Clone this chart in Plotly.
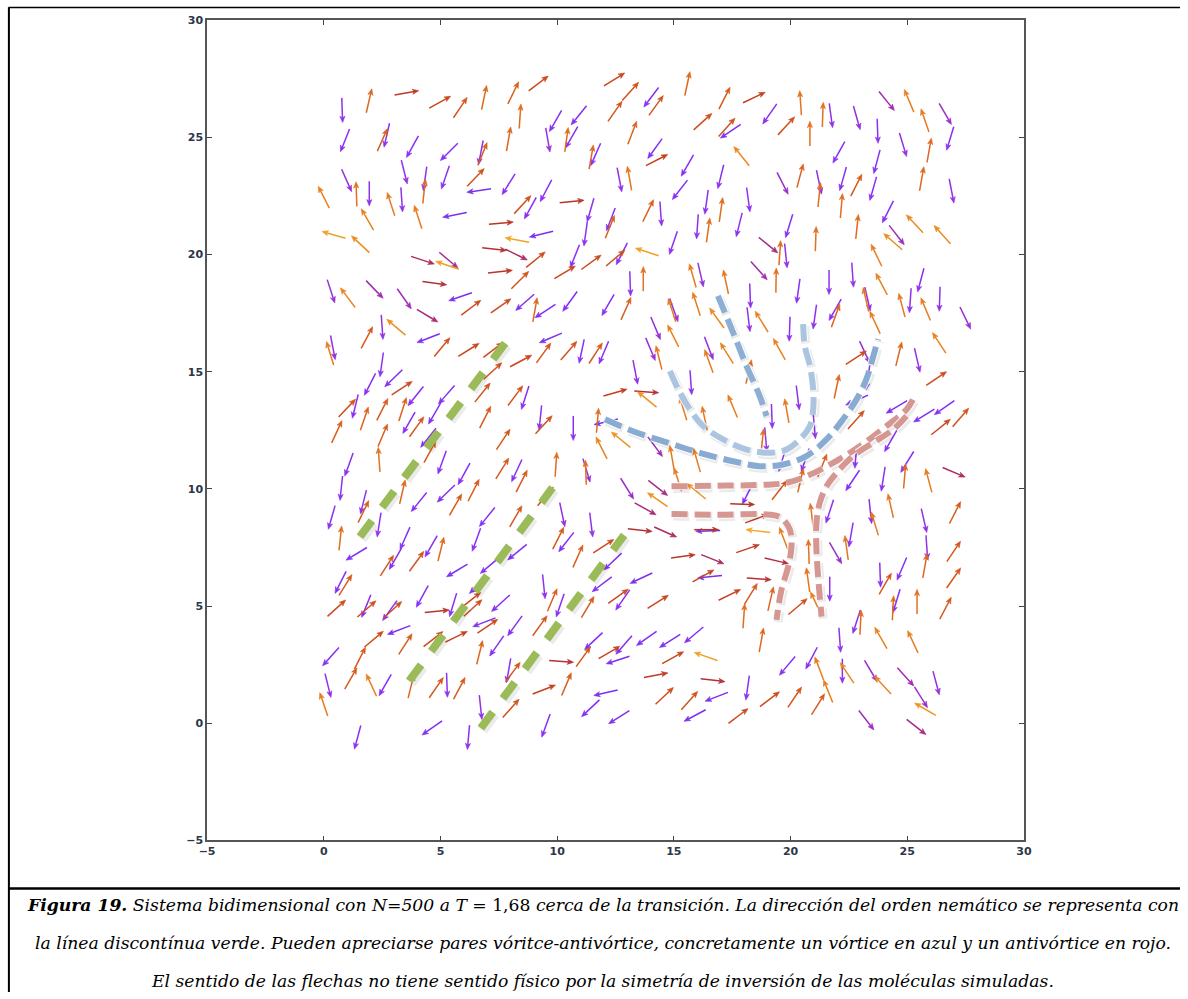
import math
import plotly.graph_objects as go

# The page is photographed with the html body margin (8px) included and fitted to 1188x999,
# so target pixel positions are converted through that mapping.
W, H = 1188, 999
MARGIN = 8
SX = (W + 2 * MARGIN) / W
SY = (H + 2 * MARGIN) / H

X_RANGE = [-5, 30]
Y_RANGE = [-5, 30]
TICK_VALS = [-5, 0, 5, 10, 15, 20, 25, 30]

ARROW_LEN = 1.05
HEAD_LEN = 0.27
HEAD_HALF = 0.11

# ---------------- arrow field: centre x, centre y, direction (deg) ----------------
# upper-left block
A_x = [0.79,1.94,3.55,4.98,5.85,6.87,8.12,9.2,8.41,9.93,
       10.93,0.91,2.51,2.7,3.8,5.37,6.73,6.8,7.92,9.6,
       10.4,10.62,11.46,11.65,0.98,1.4,1.95,2.88,3.45,3.34,
       4.3,4.34,4.04,5.21,6.51,6.65,7.92,9.52,8.52,8.85,
       10.63,11.43,11.22,0.0,1.87,5.61,7.6,0.43,1.57,8.28,
       9.32,7.31,8.25,9.08,10.76,11.46,10.33,4.24,5.29,5.35,
       7.56,8.41,4.75,0.31,1.03,2.18,3.45,5.85,6.31,7.59,
       8.62,9.05,9.49,10.55,4.44,2.5,3.1]
A_y = [26.16,26.56,26.9,26.5,26.27,26.7,26.9,27.3,25.9,25.7,
       25.94,24.87,24.89,25.09,24.6,24.38,24.35,24.29,24.93,24.89,
       24.9,25.0,24.16,24.27,23.16,22.58,22.6,22.15,23.52,22.34,
       22.7,23.23,21.6,23.29,23.29,22.73,23.0,22.72,22.13,21.98,
       22.26,21.9,20.88,22.45,21.5,21.69,21.34,20.84,20.44,20.62,
       20.87,20.23,20.0,19.78,19.93,19.67,19.24,19.76,19.54,19.76,
       19.27,18.91,18.78,18.43,18.16,18.51,18.11,18.2,17.73,17.81,
       17.96,17.64,17.59,18.0,17.39,16.9,16.9]
A_a = [-88,77,10,29,56,78,64,37,86,-120,
       -129,-112,66,-103,-119,-135,-101,68,80,-80,
       82,-120,80,-114,-66,92,-90,108,-76,-86,
       84,-98,108,-109,46,-172,-122,-118,47,-119,
       6,-106,-98,117,120,-169,5,164,137,169,
       -166,-6,-26,39,-112,36,31,-18,161,-40,
       6,45,-8,-72,127,-46,-55,-161,37,35,
       -139,80,-147,-126,-31,-86,140]

# lower-left block
B_x = [0.27,0.39,1.85,4.48,5.07,6.21,7.26,9.72,8.45,9.42,
       10.5,11.05,11.65,12.0,2.48,2.99,3.35,1.98,1.0,1.35,
       1.74,0.56,2.51,3.94,3.38,3.65,3.98,5.26,4.75,4.48,
       4.55,2.37,2.53,1.08,0.75,0.34,0.71,1.7,1.7,2.37,
       3.37,4.08,5.24,5.65,6.42,6.01,7.65,8.27,8.48,5.07,
       7.69,6.92,8.21,8.63,6.8,7.24,9.28,9.43,10.69,12.49,
       12.09,11.73,11.9,12.73,9.95,11.26,11.23,9.5,10.22,11.46,
       10.05,10.39,10.89,11.99,12.38,9.43,9.79,10.13,11.92,12.62,
       12.81,11.31,6.54,7.0,8.23,8.29,7.11,5.71,6.62,6.31,
       7.58,6.87,7.02,8.19,7.41,9.26,10.18,11.12,11.56,12.23,
       12.86,12.6,9.44,10.4,12.08,11.43,12.65,9.52,7.92,8.1,
       6.72,8.02,4.64,4.82,5.28,5.81,3.74,2.04,2.63,1.16,
       0.18,0.0,0.3,1.55,2.15,3.22,3.5,4.69,5.68,6.68,
       0.55,1.82,1.84,2.83,2.95,4.22,4.85,5.54,6.39,0.72,
       0.93,1.4,2.71,3.48,3.07,3.98,4.6,5.02,1.45,6.2]
B_y = [15.79,16.03,16.46,16.43,16.05,15.93,15.93,16.44,15.46,15.8,
       15.9,15.87,15.79,15.82,15.3,14.72,14.3,14.46,13.45,13.52,
       13.0,12.44,13.39,13.96,13.4,12.82,12.65,14.02,13.22,12.18,
       11.58,11.25,12.29,11.04,10.03,8.78,7.9,9.44,9.03,8.47,
       9.87,9.44,9.8,9.33,9.94,10.64,10.87,10.78,10.33,11.13,
       12.11,13.06,13.98,13.89,14.11,15.03,13.04,12.74,12.59,14.11,
       12.86,12.92,11.75,12.1,11.04,10.79,10.7,9.68,8.9,8.47,
       7.9,7.73,7.13,7.56,6.9,5.83,5.26,5.03,5.93,5.42,
       5.26,4.96,7.83,8.8,8.83,7.3,6.73,6.52,5.9,5.26,
       5.12,4.31,4.14,4.16,3.3,4.16,2.64,2.84,3.51,3.02,
       3.34,2.7,1.44,1.67,1.3,0.64,0.26,-0.1,2.25,2.18,
       0.68,0.64,-0.2,1.52,1.63,1.49,1.58,1.63,1.63,1.91,
       1.61,0.81,2.84,2.78,3.59,3.98,3.38,3.59,3.69,3.02,
       4.91,5.0,4.88,4.81,4.84,5.41,4.78,5.05,4.92,6.01,
       5.9,7.23,6.73,7.89,7.02,6.91,7.55,7.43,-0.6,-0.6]
B_a = [107,-79,62,-159,50,32,37,-157,28,54,
       49,-102,57,-113,-98,-136,33,-117,46,-104,
       71,65,63,-129,72,-120,54,-131,-120,-129,
       61,94,67,-110,-96,-106,84,-104,64,-99,
       77,-129,-136,60,63,-119,58,-115,63,-110,
       56,63,53,-108,51,42,-96,47,-90,16,
       -167,85,117,141,86,-73,92,50,-78,-83,
       63,-128,66,33,-137,-84,67,-109,-143,35,
       -125,59,-110,-129,60,-141,-140,-149,-136,38,
       -138,-159,34,-126,-125,54,-4,54,-137,30,
       -131,-162,21,67,-167,-137,-148,-110,-100,53,
       -84,48,-145,55,-88,62,76,115,-120,60,
       -76,109,-132,63,40,-159,57,38,26,76,
       42,-112,41,-126,42,-119,6,-107,42,-117,
       58,-149,57,-114,-120,54,-120,76,-105,-95]

# central / right block
C_x = [13.13,13.69,15.81,16.15,17.23,18.65,19.38,19.8,21.65,22.66,
       23.68,23.9,25.58,26.39,12.18,12.95,14.92,15.0,15.97,18.27,
       20.33,21.91,21.93,21.04,23.23,23.3,25.13,24.77,25.79,27.49,
       23.62,16.84,18.2,18.76,19.96,19.52,26.37,24.64,25.43,22.81,
       23.18,23.32,21.98,26.25,14.0,14.22,14.97,14.36,16.5,16.5,
       17.27,13.35,13.83,13.85,15.73,15.4,16.32,17.52,18.21,19.2,
       19.84,20.31,22.84,22.81,24.55,25.72,26.59,26.44,27.29,24.29,
       21.36,19.53,20.63,19.65,20.43,18.79,15.99,14.92,14.2,15.17,
       15.96,13.0,14.32,14.3,13.78,18.17,17.94,22.66,23.97,25.0,
       24.89,25.92,27.0,21.68,22.59,22.4,23.42,23.61,24.29,25.72,
       25.84,27.05,26.99,26.64,25.76,26.99,21.93,23.84,24.77,24.06,
       25.42,24.54,24.39,23.0,22.83,21.68,21.08,20.91,20.78,20.75,
       20.31,18.0,18.3,19.15,18.75,18.65,19.4,18.17,18.55,18.61,
       19.71,15.4,16.66,16.54,16.26,17.39,14.32,13.6,14.64,13.55,
       16.4,16.46,22.8,21.02,18.94]
C_y = [18.76,18.96,19.1,19.13,18.83,19.31,18.9,19.95,18.82,19.13,
       19.97,18.74,18.91,18.1,17.85,17.69,17.63,17.63,17.89,18.24,
       18.44,17.64,17.39,17.34,18.08,18.1,18.04,17.84,17.67,17.29,
       17.1,17.29,17.23,17.14,16.82,15.96,16.23,15.76,15.49,15.6,
       15.83,14.75,14.37,14.71,15.96,16.85,16.53,15.6,16.0,15.45,
       15.79,14.98,14.14,13.82,14.54,13.43,13.01,13.53,15.0,13.1,
       13.33,13.89,13.79,12.95,13.5,13.13,13.47,12.64,13.05,12.04,
       11.0,9.95,11.23,11.25,10.36,12.04,11.22,11.34,11.8,10.4,
       9.9,10.01,10.04,9.54,9.15,9.81,9.35,10.36,10.42,11.15,
       10.54,10.36,10.71,9.04,8.04,7.49,9.04,8.52,9.28,8.65,
       7.5,8.99,7.33,4.91,6.72,6.2,7.26,6.33,6.59,5.95,
       5.19,5.22,4.92,4.3,4.33,5.73,5.13,8.87,7.32,6.12,
       4.98,4.58,5.52,5.31,3.55,6.16,6.93,7.45,8.73,8.2,
       7.87,7.12,7.0,6.25,6.29,5.48,5.18,6.19,8.16,8.24,
       8.26,8.21,11.4,12.66,12.1]
C_a = [-88,90,106,-77,102,-48,89,-84,-90,-86,
       116,118,-105,-92,-120,66,108,-70,108,-88,
       -98,-120,70,-98,103,-77,-94,105,113,-64,
       115,126,-83,122,-92,119,123,76,-77,33,
       -65,-98,78,34,-67,-67,117,104,-69,110,
       122,-79,-4,141,-86,107,102,113,77,-88,
       100,-83,-156,48,-149,-148,-145,39,49,-120,
       68,52,-109,-107,77,84,106,100,-53,108,
       141,-58,-38,145,-29,-117,-2,-124,-99,-122,
       85,105,-23,-108,-100,98,-84,107,103,-77,
       -86,63,56,62,80,55,-60,-88,-113,60,
       90,-107,87,87,-108,-90,115,97,92,98,
       40,86,58,77,80,-4,-13,19,20,173,
       111,8,-22,-174,29,26,32,-155,-24,-6,
       0,-178,-95,-85,-85]

# upper-right block
D_x = [12.45,12.48,13.14,14.03,14.24,15.58,17.17,18.44,19.11,20.43,
       21.38,21.73,22.84,24.12,25.08,26.63,16.24,17.27,17.43,19.82,
       20.83,23.73,25.76,26.84,24.82,25.94,13.22,14.19,14.27,15.58,
       17.9,22.07,23.7,25.62,26.9,12.67,13.1,15.26,17.01,19.66,
       20.41,21.22,21.23,22.25,22.82,23.54,22.18,24.17,25.32,26.5,
       24.55,24.39,22.85,21.08,19.94,19.54,19.05,18.19,17.8,17.02,
       16.4,16.01,16.47,14.98,13.85,13.9,14.44,12.3,12.26,12.77,
       12.5]
D_y = [27.47,26.11,26.96,26.71,26.36,27.29,26.67,26.7,26.0,26.47,
       25.97,25.93,25.83,26.55,26.56,26.0,25.67,25.43,25.26,25.49,
       25.16,25.27,25.72,24.95,24.68,24.45,25.2,24.52,24.03,23.8,
       24.2,24.36,23.96,23.23,22.71,23.19,23.25,22.76,23.32,23.04,
       23.36,23.09,22.55,23.23,22.96,22.81,22.08,21.82,21.31,20.85,
       20.83,20.55,21.19,20.67,21.22,20.07,20.4,22.34,21.27,21.91,
       22.24,21.19,21.04,20.5,20.11,21.87,21.74,21.5,21.18,20.03,
       19.85]
D_a = [32,55,48,-127,54,78,63,25,-125,94,
       88,-82,-74,-51,113,-60,42,48,-146,47,
       90,-88,109,-107,-73,80,69,-126,27,-120,
       129,-119,-105,80,-79,-79,100,-128,-104,-63,
       75,-78,84,-106,63,-106,85,-117,133,132,
       -52,139,84,88,-107,86,-39,-82,-104,82,
       -98,-94,82,-109,162,64,-86,-111,68,-117,
       40]

# lower-right block
E_x = [13.83,14.83,15.86,14.96,16.37,14.23,16.67,14.6,15.67,16.83,
       15.9,18.16,17.76,19.11,20.18,21.18,21.61,21.23,19.86,20.9,
       22.11,22.22,22.42,23.87,25.24,23.44,23.95,24.93,25.59,26.24,
       25.77,23.25,25.39]
E_y = [3.62,3.51,3.77,2.8,2.85,2.05,1.84,1.17,0.97,1.13,
       0.33,1.51,0.31,1.03,1.11,0.81,1.37,2.34,2.45,2.78,
       3.55,2.23,2.15,3.64,3.48,2.23,1.63,1.98,1.11,1.72,
       0.6,0.13,-0.16]
E_a = [-145,-148,-140,29,161,11,-7,43,48,-159,
       -152,-98,37,37,56,58,112,111,-130,-118,
       -86,-90,124,120,115,-59,133,-48,-58,-75,
       150,-52,-38]

arrow_x = A_x + B_x + C_x + D_x + E_x
arrow_y = A_y + B_y + C_y + D_y + E_y
arrow_angle = A_a + B_a + C_a + D_a + E_a

# ---------------- hand-drawn overlay lines ----------------
# nematic director (green dashed), start / end points
nematic_x0 = [1.55, 3.66, 6.73]
nematic_y0 = [7.96, 1.81, -0.21]
nematic_x1 = [7.78, 9.80, 12.87]
nematic_y1 = [16.23, 10.05, 8.03]

# vortex (blue)
vortex1_x = [12.05,13.25,14.69,16.11,17.54,18.68,19.68,20.68,21.54,22.25,22.83,23.25,23.47,23.75]
vortex1_y = [12.97,12.46,11.99,11.54,11.18,10.97,11.04,11.4,12.11,12.97,13.82,14.68,15.39,16.39]
vortex2_x = [14.83,15.19,15.69,16.26,17.11,18.12,18.97,19.4,19.83,20.4,20.83,20.97,20.97,20.83,20.61,20.54]
vortex2_y = [15.03,14.25,13.39,12.68,12.11,11.68,11.54,11.57,11.68,12.11,12.68,13.39,14.25,15.25,16.1,17.03]
vortex3_x = [16.89,17.54,18.11,18.68,18.97]
vortex3_y = [18.24,16.67,15.25,13.96,13.11]

# antivortex (red)
anti1_x = [14.9,17.26,18.97,19.83,20.68,21.82,22.97,24.11,24.97,25.32]
anti1_y = [10.11,10.14,10.18,10.26,10.54,11.11,11.82,12.68,13.39,13.96]
anti2_x = [24.97,24.4,23.54,22.68,21.97,21.54,21.25,21.11,21.11,21.18,21.33]
anti2_y = [13.11,12.54,11.97,11.4,10.68,10.11,9.4,8.55,7.4,6.26,4.55]
anti3_x = [14.9,16.83,19.11,19.61,19.97,20.04,19.9,19.61,19.4]
anti3_y = [8.93,8.9,8.9,8.76,8.26,7.54,6.69,5.69,4.41]

# ---------------- colour by direction ----------------
COLOR_STOPS = [(-180, (118, 50, 235)), (-120, (136, 46, 245)), (-90, (142, 50, 238)),
               (-65, (150, 48, 212)), (-45, (160, 46, 165)), (-25, (172, 44, 100)),
               (0, (182, 50, 40)), (30, (200, 70, 30)), (60, (214, 90, 28)),
               (90, (226, 112, 32)), (130, (234, 136, 32)), (165, (240, 162, 36)),
               (180, (242, 172, 38))]


def angle_color(a):
    a = max(-180, min(180, a))
    for (a0, c0), (a1, c1) in zip(COLOR_STOPS[:-1], COLOR_STOPS[1:]):
        if a0 <= a <= a1:
            t = (a - a0) / (a1 - a0)
            r, g, b = (round(c0[i] + t * (c1[i] - c0[i])) for i in range(3))
            return f"rgb({r},{g},{b})"
    return "rgb(0,0,0)"


fig = go.Figure()

BIN = 6
groups = {}
for x, y, a in zip(arrow_x, arrow_y, arrow_angle):
    groups.setdefault(int(round(a / BIN)), []).append((x, y, a))

for key in sorted(groups):
    col = angle_color(key * BIN)
    sx, sy, hx, hy = [], [], [], []
    for x, y, a in groups[key]:
        t = math.radians(a)
        c, s = math.cos(t), math.sin(t)
        x0, y0 = x - c * ARROW_LEN / 2, y - s * ARROW_LEN / 2
        x1, y1 = x + c * ARROW_LEN / 2, y + s * ARROW_LEN / 2
        sx += [x0, x1 - c * HEAD_LEN * 0.7, None]
        sy += [y0, y1 - s * HEAD_LEN * 0.7, None]
        bx, by = x1 - c * HEAD_LEN, y1 - s * HEAD_LEN
        nx, ny = x1 - c * HEAD_LEN * 0.72, y1 - s * HEAD_LEN * 0.72
        hx += [x1, bx - s * HEAD_HALF, nx, bx + s * HEAD_HALF, x1, None]
        hy += [y1, by + c * HEAD_HALF, ny, by - c * HEAD_HALF, y1, None]
    fig.add_trace(go.Scatter(x=sx, y=sy, mode="lines", line=dict(color=col, width=1.5),
                             hoverinfo="skip", showlegend=False))
    fig.add_trace(go.Scatter(x=hx, y=hy, mode="lines", fill="toself", fillcolor=col,
                             line=dict(color=col, width=0.6), hoverinfo="skip", showlegend=False))


def dashed_line(xs, ys, color, width, dash, outline=True, shadow=True, opacity=1.0):
    if shadow:
        fig.add_trace(go.Scatter(x=[v + 0.07 for v in xs], y=[v - 0.09 for v in ys], mode="lines",
                                 line=dict(color="rgba(0,0,0,0.08)", width=width + 3, dash=dash, shape="spline"),
                                 hoverinfo="skip", showlegend=False))
    if outline:
        fig.add_trace(go.Scatter(x=xs, y=ys, mode="lines",
                                 line=dict(color="rgba(255,255,255,0.9)", width=width + 2, dash=dash, shape="spline"),
                                 hoverinfo="skip", showlegend=False))
    fig.add_trace(go.Scatter(x=xs, y=ys, mode="lines", opacity=opacity,
                             line=dict(color=color, width=width, dash=dash, shape="spline"),
                             hoverinfo="skip", showlegend=False))


for i in range(len(nematic_x0)):
    dashed_line([nematic_x0[i], nematic_x1[i]], [nematic_y0[i], nematic_y1[i]],
                "#9bbb59", 8, "20px,17px", outline=False)

dashed_line(vortex1_x, vortex1_y, "#82a8cf", 6, "18px,7px", opacity=0.95)
dashed_line(vortex2_x, vortex2_y, "#a7c3e0", 6, "18px,7px", opacity=0.95)
dashed_line(vortex3_x, vortex3_y, "#86abd1", 6, "18px,7px", opacity=0.95)
dashed_line(anti1_x, anti1_y, "#d4928d", 6, "16px,7px", opacity=0.95)
dashed_line(anti2_x, anti2_y, "#d4928d", 6, "16px,7px", opacity=0.95)
dashed_line(anti3_x, anti3_y, "#d4928d", 6, "16px,7px", opacity=0.95)


def px_x(p):
    return (p * SX - MARGIN) / W


def px_y(p):
    return 1 - (p * SY - MARGIN) / H


axis_common = dict(tickvals=TICK_VALS, ticks="inside", ticklen=5, tickwidth=1,
                   tickcolor="#444", showline=True, linecolor="#555", linewidth=1.5,
                   mirror="ticks", showgrid=False, zeroline=False,
                   tickfont=dict(family="DejaVu Sans", size=11, color="#2c3648", weight="bold"))

xa = dict(axis_common)
xa.update(range=X_RANGE, domain=[px_x(207), px_x(1024)])
ya = dict(axis_common)
ya.update(range=Y_RANGE, domain=[px_y(840), px_y(22)])

caption = [
    "<b><i>Figura 19.</i></b><i> Sistema bidimensional con N=500 a T </i>= 1,68<i> cerca de la transición. "
    "La dirección del orden nemático se representa con</i>",
    "<i>la línea discontínua verde. Pueden apreciarse pares vóritce-antivórtice, concretamente un vórtice "
    "en azul y un antivórtice en rojo.</i>",
    "<i>El sentido de las flechas no tiene sentido físico por la simetría de inversión de las moléculas simuladas.</i>",
]
caption_y = [904, 942, 980]

annotations = [dict(text=t, xref="paper", yref="paper", x=px_x(603), y=px_y(yy), xanchor="center",
                    yanchor="middle", showarrow=False,
                    font=dict(family="DejaVu Serif", size=17.2, color="black"))
               for t, yy in zip(caption, caption_y)]

shapes = [
    dict(type="line", xref="paper", yref="paper", x0=px_x(8.5), x1=1, y0=px_y(9.3), y1=px_y(9.3),
         line=dict(color="black", width=1.5)),
    dict(type="line", xref="paper", yref="paper", x0=px_x(8.8), x1=px_x(8.8), y0=px_y(9), y1=0,
         line=dict(color="black", width=2)),
    dict(type="line", xref="paper", yref="paper", x0=px_x(8), x1=1, y0=px_y(888), y1=px_y(888),
         line=dict(color="black", width=2.5)),
]

fig.update_layout(width=W, height=H, autosize=False, margin=dict(l=0, r=0, t=0, b=0),
                  paper_bgcolor="white", plot_bgcolor="white", xaxis=xa, yaxis=ya,
                  annotations=annotations, shapes=shapes, showlegend=False)

fig.write_html("out.html")
